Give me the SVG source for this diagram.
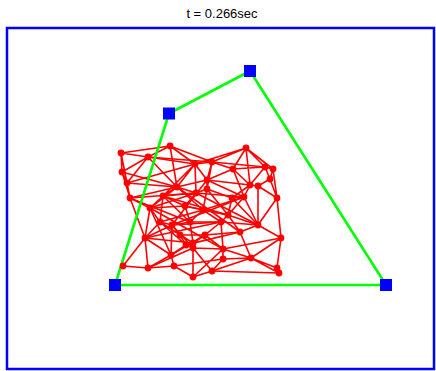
<svg xmlns="http://www.w3.org/2000/svg" width="436" height="371" viewBox="0 0 436 371">
<style>
.frame{fill:none;stroke:#0000ff;stroke-width:2.5}
.title{font-family:"Liberation Sans",Arial,sans-serif;font-size:13px;fill:#000;text-anchor:middle}
.e{stroke:#ff0000;stroke-width:1.6;fill:none}
.m{fill:#ff0000}
.poly{fill:none;stroke:#00ff00;stroke-width:2.6;stroke-linejoin:miter}
.c{fill:#0000ff}
</style>
<rect width="436" height="371" fill="#fff"/>
<text class="title" x="222" y="18">t = 0.266sec</text>
<rect class="frame" x="7" y="28" width="427" height="341"/>
<g id="connectors">
<g id="mesh-edges">
<path class="e" d="M121,153L148,157M121,153L170,146M121,153L122,172M148,157L170,146M148,157L122,172M148,157L195,164M170,146L195,164M170,146L212,162M170,146L177,187M148,157L177,187M122,172L127,183M122,172L130,198M127,183L130,198M127,183L148,157M127,183L177,187M130,198L150,208M130,198L177,187M121,153L127,183"/>
<path class="e" d="M195,164L212,162M195,164L177,187M195,164L207,180M195,164L196,193M195,164L163,196M177,187L163,196M177,187L196,193M177,187L150,208M177,187L207,180"/>
<path class="e" d="M246,148L212,162M246,148L233,169M246,148L265,167M246,148L273,169M246,148L250,185M246,148L195,164M212,162L233,169M212,162L207,180M212,162L207,189M233,169L265,167M233,169L207,180M233,169L250,185M233,169L244,197M265,167L273,169M265,167L270,179M265,167L250,185M273,169L270,179M273,169L277,198M270,179L258,186M270,179L277,198M250,185L258,186M250,185L244,197M258,186L277,198M250,185L232,198M207,180L207,189M207,189L196,193M207,189L232,198M244,197L232,198M244,197L228,215M258,186L258,225M277,198L258,225M277,198L281,238M244,197L258,225M207,180L244,197"/>
<path class="e" d="M196,193L185,206M196,193L163,196M163,196L150,208M163,196L185,206M150,208L160,222M150,208L145,238M150,208L185,206M185,206L203,210M203,210L228,215M203,210L221,222M207,189L203,210M185,206L190,222M160,222L172,225M172,225L190,222M172,225L145,238M172,225L171,255M172,225L180,235M190,222L203,210M190,222L193,243M190,222L221,222M160,222L145,238"/>
<path class="e" d="M145,238L123,266M145,238L148,268M145,238L171,255M171,255L148,268M171,255L174,266M171,255L186,245M186,245L193,248M186,245L180,235M193,248L193,243M193,248L223,249M193,248L193,277M193,248L212,271M174,266L193,277M148,268L174,266M123,266L148,268M193,277L212,271M212,271L223,259M212,271L251,258M223,259L223,249M223,259L251,258M223,249L251,258M223,249L221,222M223,249L205,235M193,243L205,235M205,235L221,222M205,235L240,232M240,232L258,225M240,232L251,258M240,232L228,215M228,215L221,222M228,215L258,225M258,225L281,238M281,238L251,258M281,238L277,268M251,258L277,268M277,268L279,273M251,258L279,273M130,198L145,238M123,266L145,238"/>
<path class="e" d="M130,198L196,193M127,183L195,164M150,208L196,193M160,222L193,243M163,196L190,222M177,187L203,210M122,172L177,187M148,157L212,162M212,162L265,167M207,180L250,185M196,193L244,197M185,206L228,215M172,225L221,222M145,238L193,243M148,268L193,248M174,266L223,259M212,271L279,273M193,277L223,249M171,255L205,235M186,245L240,232M221,222L258,225M203,210L244,197M150,208L171,255M160,222L186,245M180,235L205,235M172,225L193,248M163,196L160,222M207,189L228,215M232,198L228,215M232,198L258,225M223,249L281,238M193,243L240,232"/>
<path class="e" d="M150,208L223,249M163,196L228,215M177,187L240,232M145,238L221,222M196,193L258,225M172,225L244,197M207,180L172,225M130,198L190,222M160,222L203,210"/>
</g>
<polygon id="hull" class="poly" points="115,285 169,113.5 250,71 386,285"/>
</g>
<g id="mesh-nodes" class="m">
<g id="n1"><circle cx="121" cy="153" r="3.4"/></g>
<g id="n2"><circle cx="148" cy="157" r="3.4"/></g>
<g id="n3"><circle cx="170" cy="146" r="3.4"/></g>
<g id="n4"><circle cx="122" cy="172" r="3.4"/></g>
<g id="n5"><circle cx="195" cy="164" r="3.4"/></g>
<g id="n6"><circle cx="127" cy="183" r="3.4"/></g>
<g id="n7"><circle cx="130" cy="198" r="3.4"/></g>
<g id="n8"><circle cx="177" cy="187" r="3.4"/></g>
<g id="n9"><circle cx="246" cy="148" r="3.4"/></g>
<g id="n10"><circle cx="212" cy="162" r="3.4"/></g>
<g id="n11"><circle cx="233" cy="169" r="3.4"/></g>
<g id="n12"><circle cx="265" cy="167" r="3.4"/></g>
<g id="n13"><circle cx="273" cy="169" r="3.4"/></g>
<g id="n14"><circle cx="270" cy="179" r="3.4"/></g>
<g id="n15"><circle cx="207" cy="180" r="3.4"/></g>
<g id="n16"><circle cx="250" cy="185" r="3.4"/></g>
<g id="n17"><circle cx="258" cy="186" r="3.4"/></g>
<g id="n18"><circle cx="196" cy="193" r="3.4"/></g>
<g id="n19"><circle cx="207" cy="189" r="3.4"/></g>
<g id="n20"><circle cx="277" cy="198" r="3.4"/></g>
<g id="n21"><circle cx="244" cy="197" r="3.4"/></g>
<g id="n22"><circle cx="150" cy="208" r="3.4"/></g>
<g id="n23"><circle cx="172" cy="225" r="3.4"/></g>
<g id="n24"><circle cx="190" cy="222" r="3.4"/></g>
<g id="n25"><circle cx="145" cy="238" r="3.4"/></g>
<g id="n26"><circle cx="171" cy="255" r="3.4"/></g>
<g id="n27"><circle cx="186" cy="245" r="3.4"/></g>
<g id="n28"><circle cx="193" cy="248" r="3.4"/></g>
<g id="n29"><circle cx="123" cy="266" r="3.4"/></g>
<g id="n30"><circle cx="148" cy="268" r="3.4"/></g>
<g id="n31"><circle cx="174" cy="266" r="3.4"/></g>
<g id="n32"><circle cx="193" cy="277" r="3.4"/></g>
<g id="n33"><circle cx="228" cy="215" r="3.4"/></g>
<g id="n34"><circle cx="221" cy="222" r="3.4"/></g>
<g id="n35"><circle cx="258" cy="225" r="3.4"/></g>
<g id="n36"><circle cx="281" cy="238" r="3.4"/></g>
<g id="n37"><circle cx="223" cy="249" r="3.4"/></g>
<g id="n38"><circle cx="251" cy="258" r="3.4"/></g>
<g id="n39"><circle cx="223" cy="259" r="3.4"/></g>
<g id="n40"><circle cx="212" cy="271" r="3.4"/></g>
<g id="n41"><circle cx="277" cy="268" r="3.4"/></g>
<g id="n42"><circle cx="279" cy="273" r="3.4"/></g>
<g id="n43"><circle cx="193" cy="243" r="3.4"/></g>
<g id="n44"><circle cx="163" cy="196" r="3.4"/></g>
<g id="n45"><circle cx="185" cy="206" r="3.4"/></g>
<g id="n46"><circle cx="203" cy="210" r="3.4"/></g>
<g id="n47"><circle cx="160" cy="222" r="3.4"/></g>
<g id="n48"><circle cx="240" cy="232" r="3.4"/></g>
<g id="n49"><circle cx="205" cy="235" r="3.4"/></g>
<g id="n50"><circle cx="180" cy="235" r="3.4"/></g>
<g id="n51"><circle cx="232" cy="198" r="3.4"/></g>
</g>
<g id="control-points" class="c">
<g id="cp1"><rect x="109" y="279" width="12" height="12"/></g>
<g id="cp2"><rect x="163" y="107.5" width="12" height="12"/></g>
<g id="cp3"><rect x="244" y="65" width="12" height="12"/></g>
<g id="cp4"><rect x="380" y="279" width="12" height="12"/></g>
</g>
</svg>
